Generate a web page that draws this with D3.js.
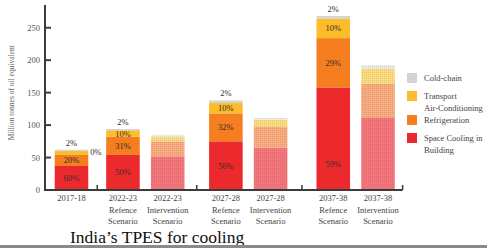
<!DOCTYPE html>
<html lang="en">
<head>
  <meta charset="UTF-8" />
  <title>India's TPES for cooling</title>
  <script src="https://d3js.org/d3.v7.min.js"></script>
  <style>
    body{margin:0;background:#fff;font-family:"Liberation Serif","DejaVu Serif",serif}
    svg{display:block}
  </style>
</head>
<body>
  <div id="chart"></div>
  <script>
    // data (Mtoe)
    const bars = ["2017-18", "2022-23 Ref", "2022-23 Int", "2027-28 Ref", "2027-28 Int", "2037-38 Ref", "2037-38 Int"];
    const barLines = [["2017-18"], ["2022-23", "Refence", "Scenario"], ["2022-23", "Intervention", "Scenario"],
      ["2027-28", "Refence", "Scenario"], ["2027-28", "Intervention", "Scenario"],
      ["2037-38", "Refence", "Scenario"], ["2037-38", "Intervention", "Scenario"]];
    const barGroup = [0, 1, 1, 2, 2, 3, 3];
    const intervention = [false, false, true, false, true, false, true];
    const spaceCooling = [37, 54, 52, 75, 65, 158, 112];
    const refrigeration = [17, 28, 23, 43, 32, 76, 52];
    const transportAC = [6, 10, 7, 16, 11, 30, 23];
    const coldChain = [2, 2, 3, 4, 3, 4, 5];
    const pctSC = ["60%", "50%", null, "56%", null, "59%", null];
    const pctRef = ["20%", "31%", null, "32%", null, "29%", null];
    const pctTAC = ["0%", "10%", null, "10%", null, "10%", null];
    const pctCC = ["2%", "2%", null, "2%", null, "2%", null];
    const yTicks = [0, 50, 100, 150, 200, 250];
    const legendItems = [["Cold-chain"], ["Transport", "Air-Conditioning"], ["Refrigeration"], ["Space Cooling in", "Building"]];

    const W = 487, H = 248;
    const svg = d3.select("#chart").append("svg").attr("width", W).attr("height", H);

    const series = [
      {key: "sc", vals: spaceCooling, pct: pctSC, color: "#ec2a2e", light: "#ee7479"},
      {key: "ref", vals: refrigeration, pct: pctRef, color: "#f47e20", light: "#f3a87c"},
      {key: "tac", vals: transportAC, pct: pctTAC, color: "#fbbd2a", light: "#f8d67c"},
      {key: "cc", vals: coldChain, pct: pctCC, color: "#d3d3d3", light: "#e6e3e0"}
    ];

    // fine dotted patterns for intervention bars
    const defs = svg.append("defs");
    series.forEach(s => {
      const p = defs.append("pattern").attr("id", "pat-" + s.key).attr("patternUnits", "userSpaceOnUse")
        .attr("width", 2).attr("height", 2);
      p.append("rect").attr("width", 2).attr("height", 2).attr("fill", s.light);
      p.append("rect").attr("width", 1).attr("height", 1).attr("fill", d3.color(s.light).darker(0.15));
      p.append("rect").attr("x", 1).attr("y", 1).attr("width", 1).attr("height", 1).attr("fill", d3.color(s.light).brighter(0.15));
    });

    // x layout: bars inside groups, with extra gap between groups
    const groupGap = [0, 0.15, 0.3, 0.4];
    const gapSum = groupGap.map((g, i) => d3.sum(groupGap.slice(0, i + 1)));
    const slotPos = bars.map((b, i) => i + gapSum[barGroup[i]]);
    const x = d3.scaleLinear().domain([0, d3.max(slotPos)]).range([71.5, 378]);
    const step = x(1) - x(0);
    const bw = step * 0.75;

    const y = d3.scaleLinear().domain([0, 285]).range([190, 5]);
    const x0 = 45;

    // stacked bars
    const rows = bars.map((b, i) => {
      const r = {bar: b, i};
      series.forEach(s => r[s.key] = s.vals[i]);
      return r;
    });
    const stack = d3.stack().keys(series.map(s => s.key))(rows);
    stack.forEach((layer, li) => {
      const s = series[li];
      svg.append("g").selectAll("rect").data(layer).enter().append("rect")
        .attr("x", d => x(slotPos[d.data.i]) - bw / 2)
        .attr("y", d => y(d[1]))
        .attr("width", bw)
        .attr("height", d => y(d[0]) - y(d[1]))
        .attr("fill", d => intervention[d.data.i] ? `url(#pat-${s.key})` : s.color);
    });

    // percent labels
    const lab = svg.append("g").attr("font-size", 8.5).attr("fill", "#3a2a2a").attr("text-anchor", "middle");
    stack.forEach((layer, li) => {
      const s = series[li];
      layer.forEach(d => {
        const t = s.pct[d.data.i];
        if (!t) return;
        const cx = x(slotPos[d.data.i]);
        let ly, lx = cx, dy = "0.35em", anchor = "middle";
        if (s.key === "cc") { ly = y(d[1]) - 4; dy = "0"; }
        else if (s.key === "sc") ly = y(Math.min(d[1] / 2, 40));
        else if (s.key === "tac" && d[1] - d[0] < 8) { ly = y(d[0] + 4); lx = cx + bw / 2 + 2; anchor = "start"; }
        else ly = y((d[0] + d[1]) / 2);
        lab.append("text").attr("x", lx).attr("y", ly).attr("dy", dy).attr("text-anchor", anchor).text(t);
      });
    });

    // axes
    const axisColor = "#3b3b3b";
    svg.append("line").attr("x1", x0).attr("x2", x0).attr("y1", y(285)).attr("y2", y(0))
      .attr("stroke", axisColor).attr("stroke-width", 2);
    const sepX = bars.slice(1).map((b, i) => barGroup[i + 1] !== barGroup[i] ? (x(slotPos[i]) + x(slotPos[i + 1])) / 2 : null).filter(v => v !== null);
    const xEnd = x(slotPos[bars.length - 1]) + step * 0.55;
    sepX.push(xEnd);
    svg.append("line").attr("x1", x0 - 1).attr("x2", xEnd).attr("y1", y(0)).attr("y2", y(0))
      .attr("stroke", axisColor).attr("stroke-width", 2);
    svg.append("g").selectAll("line").data(sepX).enter().append("line")
      .attr("x1", d => d).attr("x2", d => d).attr("y1", y(0)).attr("y2", y(0) - 5)
      .attr("stroke", axisColor).attr("stroke-width", 1.5);

    const yg = svg.append("g");
    yg.selectAll("line").data(yTicks.filter(t => t > 0)).enter().append("line")
      .attr("x1", x0).attr("x2", x0 + 6).attr("y1", d => y(d)).attr("y2", d => y(d))
      .attr("stroke", axisColor).attr("stroke-width", 2);
    yg.selectAll("text").data(yTicks).enter().append("text")
      .attr("x", x0 - 5).attr("y", d => y(d)).attr("dy", "0.35em").attr("text-anchor", "end")
      .attr("font-size", 8.5).attr("fill", "#555").text(d => d);

    svg.append("text").attr("transform", `translate(14,${y(150)}) rotate(-90)`)
      .attr("text-anchor", "middle").attr("font-size", 7.5).attr("fill", "#666")
      .text("Million tonnes of oil equivalent");

    // x labels
    const xl = svg.append("g").attr("font-size", 8.5).attr("fill", "#444").attr("text-anchor", "middle");
    barLines.forEach((lines, i) => {
      lines.forEach((l, j) => {
        xl.append("text").attr("x", x(slotPos[i])).attr("y", y(0) + 11 + j * 11.5).text(l);
      });
    });

    // legend
    const legColors = [series[3].color, series[2].color, series[1].color, series[0].color];
    const legY = [78, 96, 120, 138];
    const lg = svg.append("g").attr("font-size", 8.5).attr("fill", "#444");
    legendItems.forEach((item, i) => {
      lg.append("rect").attr("x", 407).attr("y", legY[i] - 5).attr("width", 10).attr("height", 10).attr("fill", legColors[i]);
      item.forEach((t, j) => {
        lg.append("text").attr("x", 424).attr("y", legY[i] + 3 + j * 12).text(t);
      });
    });

    // title and bottom rule
    svg.append("text").attr("x", 70).attr("y", 243).attr("font-size", 17.5).attr("fill", "#111").text("India\u2019s TPES for cooling");
    svg.append("rect").attr("x", 0).attr("y", 245).attr("width", W).attr("height", 3).attr("fill", "#8a8a8a");
  </script>
</body>
</html>
